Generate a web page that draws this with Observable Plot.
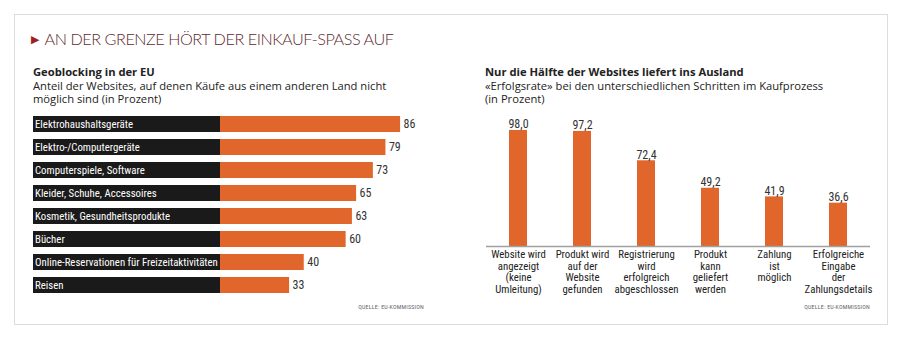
<!DOCTYPE html>
<html>
<head>
<meta charset="utf-8">
<script src="https://cdn.jsdelivr.net/npm/d3@7"></script>
<script src="https://cdn.jsdelivr.net/npm/@observablehq/plot@0.6"></script>
<style>
  html, body { margin: 0; padding: 0; background: #fff; }
  #page { position: relative; width: 900px; height: 352px; overflow: hidden; font-family: "Open Sans", sans-serif; color: #222; }
  #card { position: absolute; left: 14px; top: 14px; width: 874px; height: 311px; border: 1px solid #dcdcdc; box-sizing: border-box; }
  #title { position: absolute; left: 31px; top: 29px; font-family: Lato, sans-serif; font-weight: 300; font-size: 16.2px; color: #5e2a2e; white-space: nowrap; letter-spacing: -0.45px; }
  #title .tri { color: #a01e1e; font-size: 11px; margin-right: 6px; position: relative; top: -2px; }
  .sub { position: absolute; font-size: 11.2px; line-height: 13.5px; color: #222; white-space: nowrap; }
  .sub b { font-weight: 700; }
  .src { position: absolute; font-family: "Roboto Condensed", sans-serif; font-size: 6px; letter-spacing: 0.2px; color: #666; text-align: right; white-space: nowrap; }
  .chart { position: absolute; }
  .chart svg text { font-family: "Roboto Condensed", sans-serif; font-weight: 400; }
</style>
</head>
<body>
<div id="page">
  <div id="card"></div>
  <div id="title"><span class="tri">&#9654;</span>AN DER GRENZE HÖRT DER EINKAUF-SPASS AUF</div>
  <div class="sub" style="left:33px; top:65px;"><b>Geoblocking in der EU</b><br>Anteil der Websites, auf denen Käufe aus einem anderen Land nicht<br>möglich sind (in Prozent)</div>
  <div class="sub" style="left:485px; top:65px;"><b>Nur die Hälfte der Websites liefert ins Ausland</b><br>«Erfolgsrate» bei den unterschiedlichen Schritten im Kaufprozess<br>(in Prozent)</div>
  <div class="src" style="right:476px; top:303px;">QUELLE: EU-KOMMISSION</div>
  <div class="src" style="right:30px; top:303px;">QUELLE: EU-KOMMISSION</div>
  <div class="chart" id="left" style="left:0; top:100px;"></div>
  <div class="chart" id="right" style="left:450px; top:110px;"></div>
</div>
<script>
// ---- data: left chart (Geoblocking) ----
const geoCategories = [
  "Elektrohaushaltsgeräte",
  "Elektro-/Computergeräte",
  "Computerspiele, Software",
  "Kleider, Schuhe, Accessoires",
  "Kosmetik, Gesundheitsprodukte",
  "Bücher",
  "Online-Reservationen für Freizeitaktivitäten",
  "Reisen"
];
const geoValues = [86, 79, 73, 65, 63, 60, 40, 33];

// ---- data: right chart (Erfolgsrate) ----
const stepLabels = [
  "Website wird\nangezeigt\n(keine\nUmleitung)",
  "Produkt wird\nauf der\nWebsite\ngefunden",
  "Registrierung\nwird\nerfolgreich\nabgeschlossen",
  "Produkt\nkann\ngeliefert\nwerden",
  "Zahlung\nist\nmöglich",
  "Erfolgreiche\nEingabe\nder\nZahlungsdetails"
];
const stepValues = [98.0, 97.2, 72.4, 49.2, 41.9, 36.6];

const ORANGE = "#e1662b";
const DARK = "#1b1a1a";

const geo = geoCategories.map((c, i) => ({category: c, value: geoValues[i]}));
const labelSpan = 89.3; // width of the black label strip, in value units
const xMin = -labelSpan;

const left = Plot.plot({
  width: 450,
  height: 205,
  marginLeft: 33,
  marginRight: 20.6,
  marginTop: 7.85,
  marginBottom: 4.85,
  x: {domain: [xMin, 100], axis: null},
  y: {domain: geoCategories, padding: 0.31, axis: null},
  style: {background: "transparent", overflow: "visible"},
  marks: [
    Plot.barX(geo, {y: "category", x1: () => xMin, x2: () => 0, fill: DARK}),
    Plot.barX(geo, {y: "category", x1: () => 0, x2: "value", fill: ORANGE}),
    Plot.text(geo, {y: "category", x: () => xMin, text: "category", textAnchor: "start", dx: 1.5, fill: "#fff", fontSize: 10.8}),
    Plot.text(geo, {y: "category", x: "value", text: d => String(d.value), textAnchor: "start", dx: 3, fill: "#333", fontSize: 12})
  ]
});
document.getElementById("left").appendChild(left);

const steps = stepLabels.map((s, i) => ({step: s, value: stepValues[i]}));
const right = Plot.plot({
  width: 450,
  height: 200,
  marginLeft: 36,
  marginRight: 30,
  marginTop: 17.6,
  marginBottom: 64,
  x: {domain: stepLabels, paddingInner: 0.72, paddingOuter: 0.36, label: null},
  y: {domain: [0, 100], axis: null},
  style: {background: "transparent", overflow: "visible"},
  marks: [
    Plot.barY(steps, {x: "step", y: "value", fill: ORANGE}),
    Plot.text(steps, {x: "step", y: "value", text: d => d.value.toFixed(1).replace(".", ","), dy: -2, lineAnchor: "bottom", fill: "#333", fontSize: 12}),
    Plot.ruleY([0], {stroke: "#a0a0a0", strokeWidth: 1.5}),
    Plot.axisX({tickSize: 0, tickPadding: 3, fontSize: 10.8, lineHeight: 1.085, fill: "#222", label: null})
  ]
});
document.getElementById("right").appendChild(right);
</script>
</body>
</html>
